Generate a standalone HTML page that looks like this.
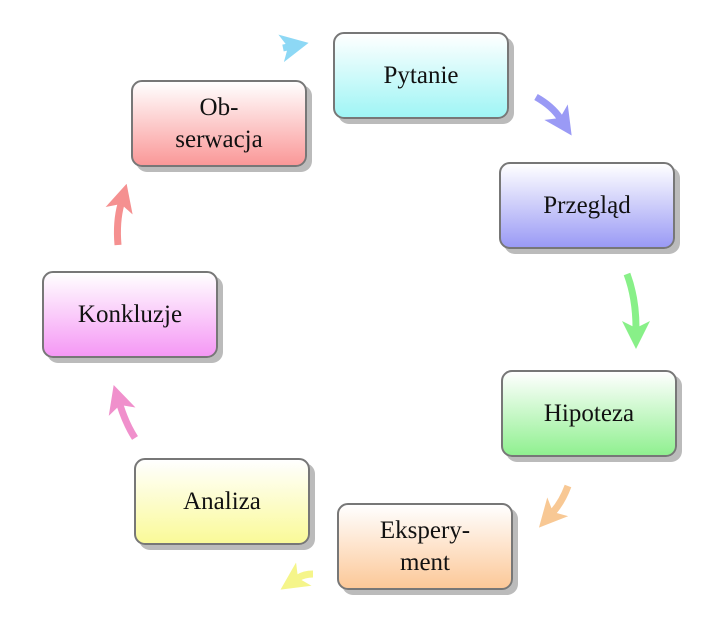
<!DOCTYPE html>
<html><head><meta charset="utf-8"><style>
body{margin:0;background:#fff;width:720px;height:623px;overflow:hidden;position:relative;font-family:"Liberation Serif",serif}
.n{position:absolute;width:172px;height:83px;border:2px solid #777;border-radius:11px;box-shadow:5px 5px 0 #bbb;display:flex;align-items:center;justify-content:center;text-align:center;font-size:25px;line-height:32px;color:#111}
svg{position:absolute;left:0;top:0}
</style></head><body>
<svg width="720" height="623">
<defs>
<marker id="mc" markerWidth="4" markerHeight="4" refX="1" refY="2" orient="auto"><path d="M0,0 L4,2 L0,4 L1,2z" fill="#8dd8f5"/></marker>
<marker id="mb" markerWidth="4" markerHeight="4" refX="1" refY="2" orient="auto"><path d="M0,0 L4,2 L0,4 L1,2z" fill="#9a9af5"/></marker>
<marker id="mg" markerWidth="4" markerHeight="4" refX="1" refY="2" orient="auto"><path d="M0,0 L4,2 L0,4 L1,2z" fill="#88f088"/></marker>
<marker id="mo" markerWidth="4" markerHeight="4" refX="1" refY="2" orient="auto"><path d="M0,0 L4,2 L0,4 L1,2z" fill="#f8c894"/></marker>
<marker id="my" markerWidth="4" markerHeight="4" refX="1" refY="2" orient="auto"><path d="M0,0 L4,2 L0,4 L1,2z" fill="#f5f58a"/></marker>
<marker id="mp" markerWidth="4" markerHeight="4" refX="1" refY="2" orient="auto"><path d="M0,0 L4,2 L0,4 L1,2z" fill="#f090cc"/></marker>
<marker id="mr" markerWidth="4" markerHeight="4" refX="1" refY="2" orient="auto"><path d="M0,0 L4,2 L0,4 L1,2z" fill="#f59090"/></marker>
</defs>
<g fill="none" stroke-width="7">
<path d="M283,48 L288,47" stroke="#8dd8f5" marker-end="url(#mc)"/>
<path d="M536,97 Q552,106 560,118" stroke="#9a9af5" marker-end="url(#mb)"/>
<path d="M627,274 Q636,298 636,328" stroke="#88f088" marker-end="url(#mg)"/>
<path d="M568,486 Q562,502 553,512" stroke="#f8c894" marker-end="url(#mo)"/>
<path d="M313,574 Q304,574 298,578" stroke="#f5f58a" marker-end="url(#my)"/>
<path d="M135,438 Q126,424 120,405" stroke="#f090cc" marker-end="url(#mp)"/>
<path d="M118,245 Q116,222 121,204" stroke="#f59090" marker-end="url(#mr)"/>
</g>
</svg>
<div class="n" style="left:333px;top:32px;background:linear-gradient(#fff,#9ff5f5)">Pytanie</div>
<div class="n" style="left:499px;top:162px;background:linear-gradient(#fff,#9a9af5)">Przegląd</div>
<div class="n" style="left:501px;top:370px;background:linear-gradient(#fff,#90f090)">Hipoteza</div>
<div class="n" style="left:337px;top:503px;background:linear-gradient(#fff,#fcc898)">Ekspery-<br>ment</div>
<div class="n" style="left:134px;top:458px;background:linear-gradient(#fff,#fafa98)">Analiza</div>
<div class="n" style="left:42px;top:271px;background:linear-gradient(#fff,#f598f5)">Konkluzje</div>
<div class="n" style="left:131px;top:80px;background:linear-gradient(#fff,#fa9898)">Ob-<br>serwacja</div>
</body></html>
